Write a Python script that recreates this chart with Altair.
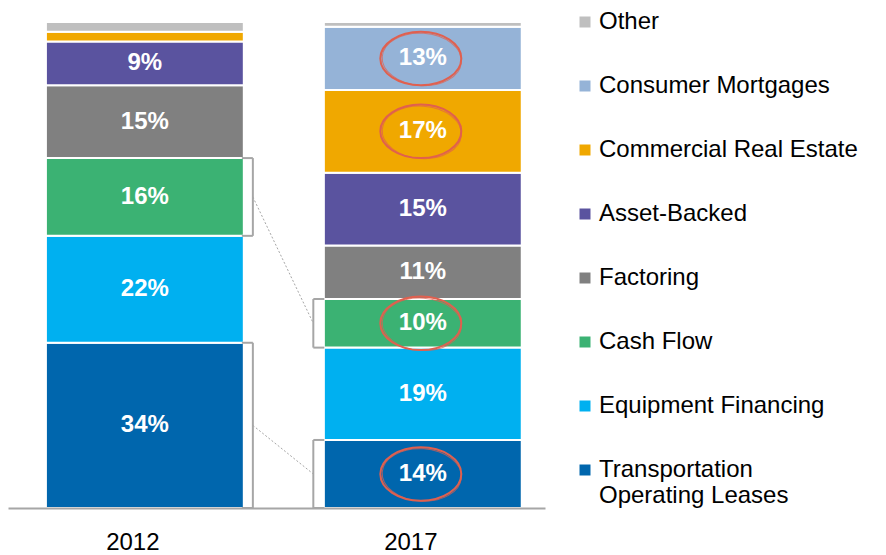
import altair as alt
import pandas as pd

years = ["2012", "2017"]
# bottom-to-top stacking order
categories = ["Transportation Operating Leases", "Equipment Financing", "Cash Flow",
              "Factoring", "Asset-Backed", "Commercial Real Estate",
              "Consumer Mortgages", "Other"]
share_2012 = [34, 22, 16, 15, 9, 2, 0, 2]
share_2017 = [14, 19, 10, 11, 15, 17, 13, 1]
colors = ["#0066AD", "#00B0F0", "#3BB273", "#808080", "#5A539F", "#F0A800",
          "#95B3D7", "#BFBFBF"]
bracketed = ["Cash Flow", "Transportation Operating Leases"]
circled_2017 = ["Consumer Mortgages", "Commercial Real Estate", "Cash Flow",
                "Transportation Operating Leases"]

rows = []
for yr, vals in zip(years, [share_2012, share_2017]):
    for i, (c, v) in enumerate(zip(categories, vals)):
        if v <= 0:
            continue
        rows.append({"year": yr, "category": c, "value": v, "order": i,
                     "label": f"{v}%", "bracket": c in bracketed,
                     "circled": (yr == "2017" and c in circled_2017)})
df = pd.DataFrame(rows)

legend_order = categories[::-1]
legend_colors = colors[::-1]

FONT = "Liberation Sans"
GRAY = "#A6A6A6"
RED = "#E0604F"

base = alt.Chart(df).transform_stack(
    stack="value", groupby=["year"], as_=["y0", "y1"],
    sort=[alt.SortField("order", order="ascending")]
).transform_calculate(mid="(datum.y0 + datum.y1) / 2")

xscale = alt.Scale(domain=years, paddingInner=0.288, paddingOuter=0.11, align=0.62)
yscale = alt.Scale(domain=[0, 100], nice=False, zero=True)

xenc = alt.X("year:N", scale=xscale,
             axis=alt.Axis(title=None, labelAngle=0, ticks=False, labelFontSize=24,
                           labelFont=FONT, labelColor="#000000", labelPadding=22,
                           labelOffset=-12, domainColor=GRAY, domainWidth=2, zindex=1))

bars = base.mark_bar(stroke="white", strokeWidth=2).encode(
    x=xenc,
    y=alt.Y("y0:Q", scale=yscale, axis=None),
    y2="y1:Q",
    color=alt.Color("category:N",
                    scale=alt.Scale(domain=legend_order, range=legend_colors),
                    legend=alt.Legend(
                        title=None, orient="none", legendX=565, legendY=-12,
                        symbolType="square", symbolSize=121, symbolStrokeWidth=0,
                        labelFontSize=24, labelFont=FONT, labelColor="#000000",
                        labelOffset=2, labelLimit=400, rowPadding=40,
                        labelExpr="datum.label == 'Transportation Operating Leases' ? ['Transportation', 'Operating Leases'] : datum.label")),
)

labels = base.transform_filter("datum.value >= 5").mark_text(
    fontSize=24, fontWeight="bold", color="white", font=FONT
).encode(x="year:N", y="mid:Q", text="label:N")

rule_style = dict(color=GRAY, strokeWidth=2)

br = base.transform_filter("datum.bracket")
b12 = br.transform_filter("datum.year == '2012'")
b17 = br.transform_filter("datum.year == '2017'")

brackets = [
    b12.mark_rule(xOffset=108, **rule_style).encode(x="year:N", y="y0:Q", y2="y1:Q"),
    b12.mark_rule(xOffset=97, x2Offset=108, **rule_style).encode(x="year:N", x2="year:N", y="y0:Q"),
    b12.mark_rule(xOffset=97, x2Offset=108, **rule_style).encode(x="year:N", x2="year:N", y="y1:Q"),
    b17.mark_rule(xOffset=-109.5, **rule_style).encode(x="year:N", y="y0:Q", y2="y1:Q"),
    b17.mark_rule(xOffset=-109.5, x2Offset=-98.5, **rule_style).encode(x="year:N", x2="year:N", y="y0:Q"),
    b17.mark_rule(xOffset=-109.5, x2Offset=-98.5, **rule_style).encode(x="year:N", x2="year:N", y="y1:Q"),
]

connectors = br.transform_calculate(key="'m' + datum.year").transform_pivot(
    "key", value="mid", groupby=["category"]
).mark_rule(xOffset=108, x2Offset=-109.5, color=GRAY, strokeWidth=1,
            strokeDash=[2, 2]).encode(
    x=alt.XDatum("2012", type="nominal"),
    x2=alt.X2Datum("2017"),
    y="m2012:Q", y2="m2017:Q")

ellipse = "M -1 0 A 1 0.66 0 1 1 1 0 A 1 0.66 0 1 1 -1 0 Z"
circ = base.transform_filter("datum.circled")
ell1 = circ.mark_point(shape=ellipse, size=6560, filled=False, stroke=RED,
                       strokeWidth=2, xOffset=-2, opacity=1).encode(x="year:N", y="mid:Q")
ell2 = circ.mark_point(shape=ellipse, size=6300, filled=False, stroke=RED,
                       strokeWidth=1, xOffset=-1, yOffset=1, angle=4,
                       opacity=0.7).encode(x="year:N", y="mid:Q")

chart = alt.layer(bars, *brackets, connectors, labels, ell1, ell2).properties(
    width=537, height=486,
    padding={"left": 0, "top": 2, "right": 0, "bottom": 0},
).configure_view(stroke=None)

chart.save("out.html", embed_options={"renderer": "svg", "actions": False})
